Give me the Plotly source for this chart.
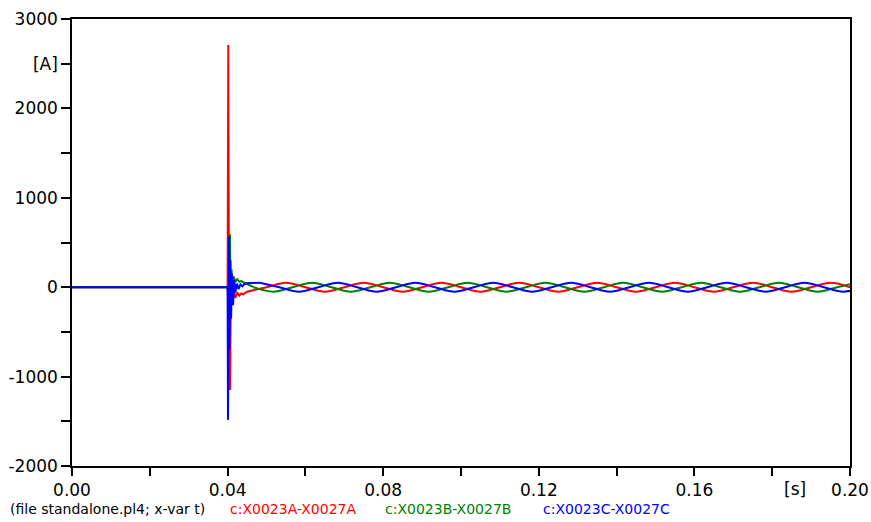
import plotly.graph_objects as go

# ---- fault transient (sampled around the switching instant) ----
red_fault_t = [0.0, 0.0400, 0.04018, 0.04028, 0.04038, 0.0405, 0.04062, 0.0408, 0.0410,
               0.0413, 0.0416, 0.0420, 0.0425, 0.0430, 0.0435, 0.0440, 0.0450]
red_fault_i = [0, 0, 2710, 400, -600, 300, -1149, -250, 80,
               -180, -40, -120, -60, -95, -70, -80, -50]

green_fault_t = [0.0, 0.0400, 0.0402, 0.04062, 0.0408, 0.0410, 0.0413, 0.0416, 0.0420,
                 0.0425, 0.0430, 0.0435, 0.0440, 0.0467]
green_fault_i = [0, 0, -200, 593, -150, 200, 20, 120, 60,
                 90, 60, 70, 55, 0]

blue_fault_t = [0.0, 0.0400, 0.0401, 0.04036, 0.0405, 0.0407, 0.0409, 0.0411, 0.0414,
                0.0417, 0.0420, 0.0424, 0.0428, 0.0433, 0.0438, 0.0443, 0.0448, 0.0483]
blue_fault_i = [0, 0, -1484, 567, -700, 300, -350, 150, -200,
                80, -60, 40, -20, 30, 10, 35, 45, 50]

# ---- post-fault 50 Hz currents: peaks and zero crossings ----
red_post_t = [0.045, 0.050, 0.055, 0.060, 0.065, 0.070, 0.075, 0.080, 0.085, 0.090, 0.095,
              0.100, 0.105, 0.110, 0.115, 0.120, 0.125, 0.130, 0.135, 0.140, 0.145, 0.150,
              0.155, 0.160, 0.165, 0.170, 0.175, 0.180, 0.185, 0.190, 0.195, 0.200]
red_post_i = [-50, 0, 50, 0, -50, 0, 50, 0, -50, 0, 50, 0, -50, 0, 50, 0,
              -50, 0, 50, 0, -50, 0, 50, 0, -50, 0, 50, 0, -50, 0, 50, 0]

green_post_t = [0.0467, 0.0517, 0.0567, 0.0617, 0.0667, 0.0717, 0.0767, 0.0817, 0.0867,
                0.0917, 0.0967, 0.1017, 0.1067, 0.1117, 0.1167, 0.1217, 0.1267, 0.1317,
                0.1367, 0.1417, 0.1467, 0.1517, 0.1567, 0.1617, 0.1667, 0.1717, 0.1767,
                0.1817, 0.1867, 0.1917, 0.1967, 0.2017]
green_post_i = [0, -50, 0, 50, 0, -50, 0, 50, 0, -50, 0, 50, 0, -50, 0, 50,
                0, -50, 0, 50, 0, -50, 0, 50, 0, -50, 0, 50, 0, -50, 0, 50]

blue_post_t = [0.0483, 0.0533, 0.0583, 0.0633, 0.0683, 0.0733, 0.0783, 0.0833, 0.0883,
               0.0933, 0.0983, 0.1033, 0.1083, 0.1133, 0.1183, 0.1233, 0.1283, 0.1333,
               0.1383, 0.1433, 0.1483, 0.1533, 0.1583, 0.1633, 0.1683, 0.1733, 0.1783,
               0.1833, 0.1883, 0.1933, 0.1983, 0.2033]
blue_post_i = [50, 0, -50, 0, 50, 0, -50, 0, 50, 0, -50, 0, 50, 0, -50, 0,
               50, 0, -50, 0, 50, 0, -50, 0, 50, 0, -50, 0, 50, 0, -50, 0]

# ---- axis ticks ----
y_tickvals = [-2000, -1500, -1000, -500, 0, 500, 1000, 1500, 2000, 2500, 3000]
y_ticktext = ["-2000", "", "-1000", "", "0", "", "1000", "", "2000", "[A]", "3000"]
x_tickvals = [0.00, 0.02, 0.04, 0.06, 0.08, 0.10, 0.12, 0.14, 0.16, 0.18, 0.20]
x_ticktext = ["0.00", "", "0.04", "", "0.08", "", "0.12", "", "0.16", "", "0.20"]

RED, GREEN, BLUE = "#ff0000", "#008000", "#0000ff"
LW = 2.0

fig = go.Figure()
for (ft, fi, pt, pi, col) in [
    (red_fault_t, red_fault_i, red_post_t, red_post_i, RED),
    (green_fault_t, green_fault_i, green_post_t, green_post_i, GREEN),
    (blue_fault_t, blue_fault_i, blue_post_t, blue_post_i, BLUE),
]:
    fig.add_trace(go.Scatter(x=ft, y=fi, mode="lines",
                             line=dict(color=col, width=LW), showlegend=False))
    fig.add_trace(go.Scatter(x=pt, y=pi, mode="lines",
                             line=dict(color=col, width=LW, shape="spline", smoothing=1),
                             showlegend=False))

TICK_FONT = dict(family="DejaVu Sans", size=17, color="black")
CAP_FONT = 14

fig.update_layout(
    width=871, height=522,
    margin=dict(l=72, r=21, t=19, b=56),
    paper_bgcolor="white", plot_bgcolor="white",
    xaxis=dict(range=[0, 0.2], tickvals=x_tickvals, ticktext=x_ticktext,
               ticks="outside", ticklen=8, tickwidth=1.5, tickcolor="black",
               showline=True, linecolor="black", linewidth=1.5, mirror=True,
               showgrid=False, zeroline=False, tickfont=TICK_FONT, automargin=False),
    yaxis=dict(range=[-2000, 3000], tickvals=y_tickvals, ticktext=y_ticktext,
               ticks="outside", ticklen=9, tickwidth=1.5, tickcolor="black",
               showline=True, linecolor="black", linewidth=1.5, mirror=True,
               showgrid=False, zeroline=False, tickfont=TICK_FONT, automargin=False),
    annotations=[
        dict(text="[s]", xref="paper", yref="paper", x=0.9293, y=-0.052,
             xanchor="center", yanchor="middle", showarrow=False, font=TICK_FONT),
        dict(text="(file standalone.pl4; x-var t)", xref="paper", yref="paper",
             x=-0.0823, y=-0.096, xanchor="left", yanchor="middle", showarrow=False,
             font=dict(family="DejaVu Sans", size=CAP_FONT, color="black")),
        dict(text="c:X0023A-X0027A", xref="paper", yref="paper",
             x=0.2005, y=-0.096, xanchor="left", yanchor="middle", showarrow=False,
             font=dict(family="DejaVu Sans", size=CAP_FONT, color=RED)),
        dict(text="c:X0023B-X0027B", xref="paper", yref="paper",
             x=0.3997, y=-0.096, xanchor="left", yanchor="middle", showarrow=False,
             font=dict(family="DejaVu Sans", size=CAP_FONT, color=GREEN)),
        dict(text="c:X0023C-X0027C", xref="paper", yref="paper",
             x=0.6028, y=-0.096, xanchor="left", yanchor="middle", showarrow=False,
             font=dict(family="DejaVu Sans", size=CAP_FONT, color=BLUE)),
    ],
)

fig.write_html("out.html")
